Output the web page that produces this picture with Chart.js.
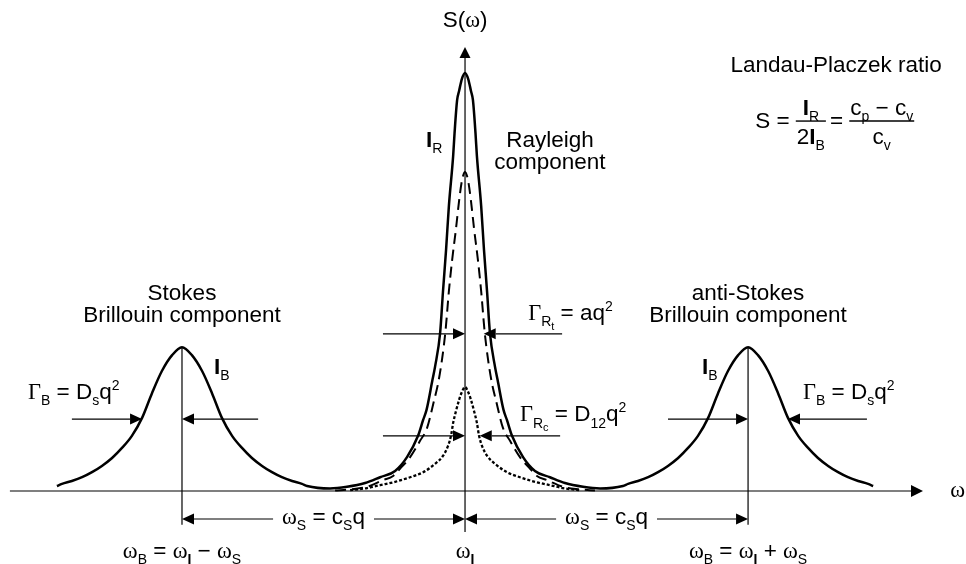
<!DOCTYPE html>
<html>
<head>
<meta charset="utf-8">
<script src="https://cdn.jsdelivr.net/npm/chart.js@4.4.0/dist/chart.umd.min.js"></script>
<style>
  html, body { margin: 0; padding: 0; background: #fff; }
  #wrap { width: 966px; height: 564px; }
</style>
</head>
<body>
<div id="wrap"><canvas id="spectrum" width="966" height="564"></canvas></div>
<script>
// Offsets are in units of the Brillouin shift ω_S, intensities in units of I_R.

// one Brillouin line, half profile (offset from its own centre)
var brillouinDw = [0, 0.035, 0.071, 0.106, 0.141, 0.177, 0.212, 0.247, 0.283, 0.318, 0.353, 0.389, 0.424, 0.442];
var brillouinS  = [0.344, 0.325, 0.287, 0.234, 0.175, 0.132, 0.103, 0.079, 0.060, 0.045, 0.033, 0.024, 0.017, 0.012];

// total central (Rayleigh) line, half profile
var rayleighDw = [0, 0.011, 0.021, 0.028, 0.037, 0.042, 0.057, 0.067, 0.078, 0.088, 0.106, 0.115, 0.136, 0.148, 0.166, 0.205, 0.247, 0.300, 0.353, 0.417, 0.477];
var rayleighS  = [1.000, 0.986, 0.957, 0.935, 0.856, 0.801, 0.682, 0.577, 0.476, 0.378, 0.297, 0.266, 0.194, 0.170, 0.132, 0.081, 0.048, 0.033, 0.019, 0.010, 0.006];

// thermal part of the central line (dashed)
var thermalDw = [0, 0.011, 0.021, 0.032, 0.046, 0.057, 0.069, 0.081, 0.095, 0.110, 0.134, 0.159, 0.194, 0.230, 0.254, 0.290, 0.346, 0.406, 0.459];
var thermalS  = [0.763, 0.742, 0.694, 0.627, 0.550, 0.478, 0.383, 0.316, 0.258, 0.215, 0.151, 0.120, 0.081, 0.053, 0.036, 0.026, 0.010, 0.004, 0.001];

// concentration part of the central line (dotted)
var concDw = [0, 0.011, 0.021, 0.032, 0.042, 0.049, 0.060, 0.078, 0.106, 0.148, 0.194, 0.247, 0.300, 0.346, 0.406];
var concS  = [0.249, 0.237, 0.218, 0.191, 0.163, 0.134, 0.108, 0.084, 0.065, 0.045, 0.033, 0.022, 0.014, 0.007, 0.002];

// line centres: Stokes, Rayleigh, anti-Stokes
var lineCentres = [-1, 0, 1];

var INK = '#000';
var SANS = '"Liberation Sans", Arial, Helvetica, sans-serif';
var SERIF = '"Liberation Serif", "Times New Roman", serif';
var BASE = 22.5;

// symmetric line from a half profile
function mirrored(centre, dw, s) {
    var pts = [];
    for (var i = dw.length - 1; i > 0; i--) pts.push({ x: centre - dw[i], y: s[i] });
    for (var j = 0; j < dw.length; j++) pts.push({ x: centre + dw[j], y: s[j] });
    return pts;
}

var solidPts = mirrored(lineCentres[0], brillouinDw, brillouinS)
    .concat(mirrored(lineCentres[1], rayleighDw, rayleighS))
    .concat(mirrored(lineCentres[2], brillouinDw, brillouinS));

// ── rich text: [text, kind] segments ──
function segFont(kind) {
    var small = Math.round(BASE * 0.6);
    switch (kind) {
        case 'g': return BASE + 'px ' + SERIF;
        case 'b': return 'bold ' + BASE + 'px ' + SANS;
        case 'sub': case 'sup': return small + 'px ' + SANS;
        case 'subb': return 'bold ' + small + 'px ' + SANS;
        case 'sub2': return Math.round(BASE * 0.5) + 'px ' + SANS;
        default: return BASE + 'px ' + SANS;
    }
}
function segShift(kind) {
    if (kind === 'sub' || kind === 'subb') return BASE * 0.28;
    if (kind === 'sub2') return BASE * 0.45;
    if (kind === 'sup') return -BASE * 0.42;
    return 0;
}
function richWidth(ctx, segs) {
    var w = 0;
    segs.forEach(function (s) { ctx.font = segFont(s[1]); w += ctx.measureText(s[0]).width; });
    return w;
}
function drawRich(ctx, segs, x, y, align) {
    var w = richWidth(ctx, segs);
    var cx = align === 'center' ? x - w / 2 : x;
    segs.forEach(function (s) {
        ctx.font = segFont(s[1]);
        ctx.fillText(s[0], cx, y + segShift(s[1]));
        cx += ctx.measureText(s[0]).width;
    });
    return w;
}

function arrow(ctx, x0, y0, x1, y1, len, half) {
    len = len || 12; half = half || 5.5;
    var a = Math.atan2(y1 - y0, x1 - x0);
    var bx = x1 - len * Math.cos(a), by = y1 - len * Math.sin(a);
    ctx.beginPath(); ctx.moveTo(x0, y0); ctx.lineTo(bx, by); ctx.stroke();
    ctx.beginPath();
    ctx.moveTo(x1, y1);
    ctx.lineTo(bx + half * Math.sin(a), by - half * Math.cos(a));
    ctx.lineTo(bx - half * Math.sin(a), by + half * Math.cos(a));
    ctx.closePath(); ctx.fill();
}
function seg(ctx, x0, y0, x1, y1) {
    ctx.beginPath(); ctx.moveTo(x0, y0); ctx.lineTo(x1, y1); ctx.stroke();
}

// labels
var L = {
    sOmega: [['S'], ['('], ['ω', 'g'], [')']],
    omega: [['ω', 'g']],
    IR: [['I', 'b'], ['R', 'sub']],
    IB: [['I', 'b'], ['B', 'sub']],
    gammaB: [['Γ', 'g'], ['B', 'sub'], [' = '], ['D'], ['s', 'sub'], ['q'], ['2', 'sup']],
    gammaRt: [['Γ', 'g'], ['R', 'sub'], ['t', 'sub2'], [' = aq'], ['2', 'sup']],
    gammaRc: [['Γ', 'g'], ['R', 'sub'], ['c', 'sub2'], [' = D'], ['12', 'sub'], ['q'], ['2', 'sup']],
    omegaS: [['ω', 'g'], ['S', 'sub'], [' = c'], ['S', 'sub'], ['q']],
    omegaBm: [['ω', 'g'], ['B', 'sub'], [' = '], ['ω', 'g'], ['I', 'subb'], [' − '], ['ω', 'g'], ['S', 'sub']],
    omegaI: [['ω', 'g'], ['I', 'subb']],
    omegaBp: [['ω', 'g'], ['B', 'sub'], [' = '], ['ω', 'g'], ['I', 'subb'], [' + '], ['ω', 'g'], ['S', 'sub']]
};

var diagram = {
    id: 'diagram',
    afterDatasetsDraw: function (chart) {
        var ctx = chart.ctx, xs = chart.scales.x, ys = chart.scales.y;
        function X(w) { return xs.getPixelForValue(w); }
        function Y(s) { return ys.getPixelForValue(s); }

        ctx.save();
        ctx.strokeStyle = INK; ctx.fillStyle = INK;
        ctx.lineWidth = 1.2;
        ctx.textBaseline = 'alphabetic'; ctx.textAlign = 'left';

        // axes
        arrow(ctx, X(-1.608), Y(0), X(1.618), Y(0), 12, 6);
        arrow(ctx, X(0), Y(-0.098), X(0), Y(1.062), 11, 5.5);

        // guides through the Brillouin peaks
        seg(ctx, X(-1), Y(brillouinS[0]), X(-1), Y(-0.081));
        seg(ctx, X(1), Y(brillouinS[0]), X(1), Y(-0.081));

        // Brillouin widths
        var yB = 0.172;
        arrow(ctx, X(-1.389), Y(yB), X(-1.141), Y(yB));
        arrow(ctx, X(-0.731), Y(yB), X(-1), Y(yB));
        arrow(ctx, X(0.717), Y(yB), X(1), Y(yB));
        arrow(ctx, X(1.420), Y(yB), X(1.141), Y(yB));

        // Rayleigh widths
        var yRt = 0.376, yRc = 0.132;
        arrow(ctx, X(-0.290), Y(yRt), X(0), Y(yRt));
        arrow(ctx, X(0.343), Y(yRt), X(0.066), Y(yRt));
        arrow(ctx, X(-0.290), Y(yRc), X(0), Y(yRc));
        arrow(ctx, X(0.336), Y(yRc), X(0.052), Y(yRc));

        // shift dimension lines with labels
        var yDim = Y(-0.067), yDimText = Y(-0.079);
        [[-1, 0], [0, 1]].forEach(function (p) {
            var mid = (X(p[0]) + X(p[1])) / 2;
            var w = drawRich(ctx, L.omegaS, mid, yDimText, 'center');
            arrow(ctx, mid - w / 2 - 9, yDim, X(p[0]), yDim);
            arrow(ctx, mid + w / 2 + 9, yDim, X(p[1]), yDim);
        });

        // text
        drawRich(ctx, L.sOmega, X(0), Y(1.110), 'center');
        drawRich(ctx, L.omega, X(1.714), Y(-0.014), 'left');
        drawRich(ctx, [['Landau-Placzek ratio']], X(1.311), Y(1.002), 'center');
        drawRich(ctx, [['Rayleigh']], X(0.300), Y(0.823), 'center');
        drawRich(ctx, [['component']], X(0.300), Y(0.770), 'center');
        drawRich(ctx, L.IR, X(-0.138), Y(0.823), 'left');

        drawRich(ctx, [['Stokes']], X(-1), Y(0.457), 'center');
        drawRich(ctx, [['Brillouin component']], X(-1), Y(0.404), 'center');
        drawRich(ctx, [['anti-Stokes']], X(1), Y(0.457), 'center');
        drawRich(ctx, [['Brillouin component']], X(1), Y(0.404), 'center');

        drawRich(ctx, L.IB, X(-0.887), Y(0.280), 'left');
        drawRich(ctx, L.IB, X(0.837), Y(0.280), 'left');
        drawRich(ctx, L.gammaB, X(-1.544), Y(0.220), 'left');
        drawRich(ctx, L.gammaB, X(1.194), Y(0.220), 'left');
        drawRich(ctx, L.gammaRt, X(0.223), Y(0.409), 'left');
        drawRich(ctx, L.gammaRc, X(0.194), Y(0.167), 'left');

        drawRich(ctx, L.omegaBm, X(-1), Y(-0.160), 'center');
        drawRich(ctx, L.omegaI, X(0), Y(-0.160), 'center');
        drawRich(ctx, L.omegaBp, X(1), Y(-0.160), 'center');

        // Landau-Placzek formula
        var fx = X(1.025), fy = Y(0.885);
        var numA = [['I', 'b'], ['R', 'sub']], denA = [['2'], ['I', 'b'], ['B', 'sub']];
        var numB = [['c'], ['p', 'sub'], [' − c'], ['v', 'sub']], denB = [['c'], ['v', 'sub']];
        function fraction(x, num, den) {
            var wn = richWidth(ctx, num), wd = richWidth(ctx, den);
            var wb = Math.max(wn, wd) + 2, c = x + wb / 2;
            drawRich(ctx, num, c, fy - 6, 'center');
            drawRich(ctx, den, c, fy + 23, 'center');
            ctx.lineWidth = 1.4; seg(ctx, x, fy, x + wb, fy); ctx.lineWidth = 1.2;
            return wb;
        }
        var cx = fx;
        cx += drawRich(ctx, [['S = ']], cx, fy + 7, 'left');
        cx += fraction(cx, numA, denA) + 4;
        cx += drawRich(ctx, [['= ']], cx, fy + 7, 'left');
        fraction(cx, numB, denB);

        ctx.restore();
    }
};

new Chart(document.getElementById('spectrum').getContext('2d'), {
    type: 'line',
    data: {
        datasets: [
            { data: solidPts, borderColor: INK, borderWidth: 2.5 },
            { data: mirrored(lineCentres[1], thermalDw, thermalS), borderColor: INK, borderWidth: 2, borderDash: [11, 6] },
            { data: mirrored(lineCentres[1], concDw, concS), borderColor: INK, borderWidth: 2.3, borderDash: [3, 2] }
        ]
    },
    options: {
        responsive: false,
        animation: false,
        layout: { padding: 0 },
        elements: {
            point: { radius: 0 },
            line: { cubicInterpolationMode: 'monotone', fill: false }
        },
        plugins: { legend: { display: false }, tooltip: { enabled: false } },
        scales: {
            x: { type: 'linear', min: -1.643, max: 1.770, display: false },
            y: { type: 'linear', min: -0.1746, max: 1.1746, display: false }
        }
    },
    plugins: [diagram]
});
</script>
</body>
</html>
